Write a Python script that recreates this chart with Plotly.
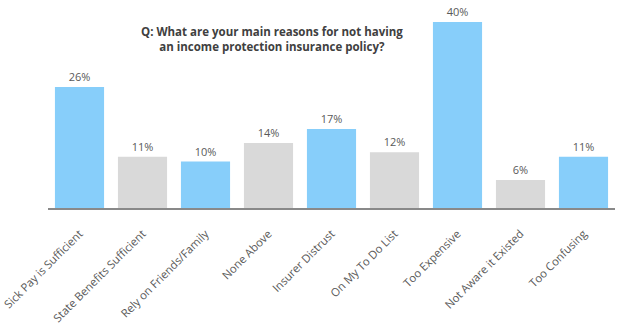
import plotly.graph_objects as go

categories = ["Sick Pay is Sufficient", "State Benefits Sufficient", "Rely on Friends/Family",
              "None Above", "Insurer Distrust", "On My To Do List", "Too Expensive",
              "Not Aware it Existed", "Too Confusing"]
values = [26, 11, 10, 14, 17, 12, 40, 6, 11]
labels = [f"{v}%" for v in values]
colors = ["#87CEFA", "#D9D9D9"] * 4 + ["#87CEFA"]

fig = go.Figure(go.Bar(
    x=categories, y=values, text=labels, textposition="outside",
    marker=dict(color=colors, line=dict(width=0)),
    textfont=dict(color="#595959", size=11, family="Open Sans"),
    cliponaxis=False,
))

fig.update_layout(
    width=619, height=333,
    margin=dict(l=48, r=4, t=22, b=125),
    paper_bgcolor="white", plot_bgcolor="white",
    bargap=0.22, showlegend=False,
    font=dict(family="Open Sans", color="#595959"),
    xaxis=dict(showline=True, linecolor="#898989", linewidth=1.5, ticks="",
               tickangle=-45, ticklabelstandoff=13, automargin=False,
               tickfont=dict(size=11.3, color="#595959")),
    yaxis=dict(visible=False, range=[0, 40], automargin=False),
    annotations=[dict(
        text="<b>Q: What are your main reasons for not having<br>an income protection insurance policy?</b>",
        xref="paper", yref="paper", x=0.395, y=1.0, xanchor="center", yanchor="top",
        showarrow=False, align="center",
        font=dict(size=11.5, color="#404040", family="Open Sans"))],
)

fig.write_html("out.html")
